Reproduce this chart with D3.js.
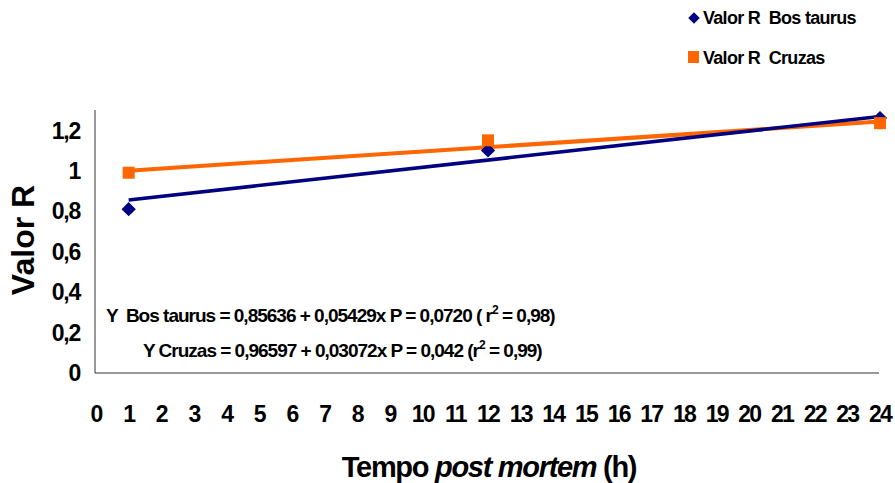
<!DOCTYPE html>
<html>
<head>
<meta charset="utf-8">
<script src="https://d3js.org/d3.v7.min.js"></script>
<style>
  body { margin: 0; background: #fff; }
  text { font-family: "Liberation Sans", Arial, sans-serif; font-weight: bold; fill: #000; white-space: pre; }
</style>
</head>
<body>
<svg id="chart" width="895" height="483"></svg>
<script>
// data
var hours = [1, 12, 24];
var bosTaurus = [0.81, 1.10, 1.26];
var cruzas = [0.99, 1.15, 1.235];
// fitted lines, value at first and last hour
var trendHours = [1, 24];
var bosTrend = [0.855, 1.268];
var cruzTrend = [1.0, 1.243];
var xTicks = d3.range(0, 25);
var yTicks = [0, 0.2, 0.4, 0.6, 0.8, 1, 1.2];

var svg = d3.select("#chart");
var blue = "#000080", orange = "#ff6600";

var x = d3.scaleLinear().domain([0, 24]).range([96, 880]);
var y = d3.scaleLinear().domain([0, 1.3]).range([373, 110]);

var fmt = function(d) { return String(d).replace(".", ","); };

// axis lines
svg.append("line").attr("x1", 95).attr("x2", 95).attr("y1", y(1.3)).attr("y2", y(0))
  .attr("stroke", "#333").attr("stroke-width", 1);
svg.append("line").attr("x1", 95).attr("x2", 879).attr("y1", y(0)).attr("y2", y(0))
  .attr("stroke", "#333").attr("stroke-width", 1);

// y tick labels
svg.selectAll(".ylab").data(yTicks).enter().append("text")
  .attr("class", "ylab")
  .attr("x", 80).attr("y", function(d) { return y(d); })
  .attr("dy", "0.36em")
  .attr("text-anchor", "end")
  .attr("font-size", 23)
  .attr("letter-spacing", -1.2)
  .text(fmt);

// x tick labels
svg.selectAll(".xlab").data(xTicks).enter().append("text")
  .attr("class", "xlab")
  .attr("x", function(d) { return x(d); }).attr("y", 422)
  .attr("text-anchor", "middle")
  .attr("font-size", 23)
  .attr("letter-spacing", -1.8)
  .text(function(d) { return d; });

// axis titles
svg.append("text")
  .attr("transform", "translate(34,240) rotate(-90)")
  .attr("text-anchor", "middle")
  .attr("font-size", 32)
  .text("Valor R");

var xt = svg.append("text")
  .attr("x", 489).attr("y", 477)
  .attr("text-anchor", "middle")
  .attr("font-size", 29)
  .attr("letter-spacing", -1.3);
xt.append("tspan").text("Tempo ");
xt.append("tspan").attr("font-style", "italic").text("post mortem");
xt.append("tspan").text(" (h)");

// trend lines
var line = d3.line().x(function(d) { return x(d[0]); }).y(function(d) { return y(d[1]); });
svg.append("path").datum(d3.zip(trendHours, cruzTrend))
  .attr("d", line).attr("fill", "none").attr("stroke", orange).attr("stroke-width", 4);
svg.append("path").datum(d3.zip(trendHours, bosTrend))
  .attr("d", line).attr("fill", "none").attr("stroke", blue).attr("stroke-width", 3.5);

// markers
var diamond = d3.symbol().type(d3.symbolDiamond2).size(130);
svg.selectAll(".bos").data(d3.zip(hours, bosTaurus)).enter().append("path")
  .attr("class", "bos")
  .attr("d", diamond)
  .attr("transform", function(d) { return "translate(" + x(d[0]) + "," + y(d[1]) + ")"; })
  .attr("fill", blue);

svg.selectAll(".cruz").data(d3.zip(hours, cruzas)).enter().append("rect")
  .attr("class", "cruz")
  .attr("x", function(d) { return x(d[0]) - 6; })
  .attr("y", function(d) { return y(d[1]) - 6; })
  .attr("width", 12).attr("height", 12)
  .attr("fill", orange);

// regression equations
function equation(tx, ty, parts) {
  var t = svg.append("text").attr("x", tx).attr("y", ty)
    .attr("font-size", 19).attr("letter-spacing", -1);
  parts.forEach(function(p) {
    var s = t.append("tspan").text(p.t);
    if (p.sup) s.attr("font-size", 12).attr("dy", -8);
    if (p.down) s.attr("dy", 8);
  });
}
equation(106, 322, [
  { t: "Y  Bos taurus = 0,85636 + 0,05429x P = 0,0720 ( r" },
  { t: "2", sup: true },
  { t: " = 0,98)", down: true }
]);
equation(143, 357, [
  { t: "Y Cruzas = 0,96597 + 0,03072x P = 0,042 (r" },
  { t: "2", sup: true },
  { t: " = 0,99)", down: true }
]);

// legend
svg.append("path").attr("d", diamond.size(85)())
  .attr("transform", "translate(694,18)").attr("fill", blue);
svg.append("text").attr("x", 703).attr("y", 24)
  .attr("font-size", 18).attr("letter-spacing", -0.7)
  .text("Valor R  Bos taurus");
svg.append("rect").attr("x", 688).attr("y", 51).attr("width", 11).attr("height", 12)
  .attr("fill", orange);
svg.append("text").attr("x", 703).attr("y", 64)
  .attr("font-size", 18).attr("letter-spacing", -0.7)
  .text("Valor R  Cruzas");
</script>
</body>
</html>
